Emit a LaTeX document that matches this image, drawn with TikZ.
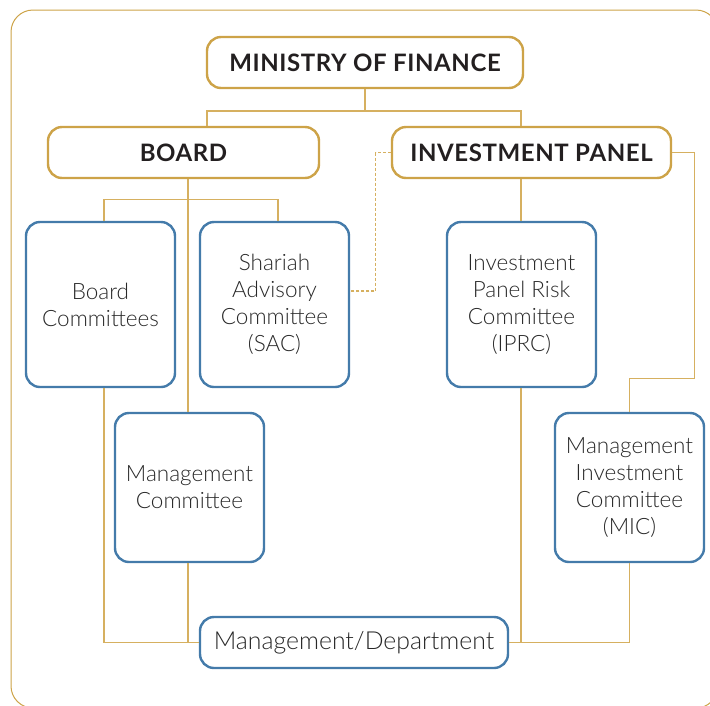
\documentclass[tikz,border=0pt]{standalone}
\usepackage{fontspec}
\setmainfont{Lato}
\newfontfamily\lightfont{Lato Light}
\newfontfamily\titlefont{Lato}[LetterSpace=2.5]
\definecolor{gold}{RGB}{205,163,72}
\definecolor{goldl}{RGB}{214,176,96}
\definecolor{blueb}{RGB}{68,123,170}
\definecolor{txt}{RGB}{35,31,32}
\definecolor{txtb}{RGB}{40,40,40}
\begin{document}
\begin{tikzpicture}[x=1pt,y=-1pt,
  top/.style={draw=gold,line width=2.4pt,rounded corners=14pt,fill=white,
    minimum height=51pt,inner sep=0pt,text=txt,font=\titlefont\fontsize{24}{28}\selectfont\bfseries},
  com/.style={draw=blueb,line width=2.4pt,rounded corners=14pt,fill=white,
    inner sep=0pt,text=txtb,align=center,font=\lightfont\fontsize{22.5}{27}\selectfont},
  conn/.style={draw=goldl,line width=1.2pt},
  dconn/.style={conn,dash pattern=on 3pt off 2pt}]
\useasboundingbox (0,0) rectangle (710,705);
\begin{scope}
\clip (0,0) rectangle (710,705);
\draw[gold,line width=1pt,rounded corners=22pt] (11,10) rectangle (718,708);
\end{scope}
\coordinate (mj) at (365,111);
% top level
\node[top,minimum width=316pt] (min) at (365,62.5) {MINISTRY OF FINANCE};
\node[top,minimum width=271pt] (board) at (183.5,152.5) {BOARD};
\node[top,minimum width=279pt] (ip) at (531.5,152.5) {INVESTMENT PANEL};
% committees
\node[com,minimum width=149pt,minimum height=165pt] (bc) at (100.5,304.5) {Board\\Committees};
\node[com,minimum width=149pt,minimum height=165pt] (sac) at (274.5,304.5) {Shariah\\Advisory\\Committee\\(SAC)};
\node[com,minimum width=149pt,minimum height=165pt] (iprc) at (521.5,304.5) {Investment\\Panel Risk\\Committee\\(IPRC)};
\node[com,minimum width=149pt,minimum height=149pt] (mc) at (189.5,487.5) {Management\\Committee};
\node[com,minimum width=149pt,minimum height=149pt] (mic) at (629.5,487.5) {Management\\Investment\\Committee\\(MIC)};
\node[com,minimum width=308pt,minimum height=51pt,font=\lightfont\fontsize{24.8}{28}\selectfont] (md) at (354,642.5) {Management/Department};
% connectors
\draw[conn] (min.south) -- (mj);
\draw[conn] ([xshift=23.5pt]board.north) |- (mj) -| ([xshift=-10.5pt]ip.north);
\draw[conn] ([xshift=4.5pt]board.south) -- ([xshift=-1.5pt]mc.north);
\draw[conn] ([xshift=3.5pt]bc.north) -- ++(0,-21) -| ([xshift=3.5pt]sac.north);
\draw[dconn] (ip.west) -- ++(-15,0) |- ([yshift=13.5pt]sac.east);
\draw[conn] ([xshift=-10.5pt]ip.south) -- ([xshift=-0.5pt]iprc.north);
\draw[conn] (ip.east) -- ++(22,0) |- ([yshift=33pt]mic.north) -- (mic.north);
\draw[conn] ([xshift=3.5pt]bc.south) |- (md.west);
\draw[conn] ([xshift=-1.5pt]mc.south) |- (md.west);
\draw[conn] ([xshift=-0.5pt]iprc.south) |- (md.east);
\draw[conn] (mic.south) |- (md.east);
\end{tikzpicture}
\end{document}
